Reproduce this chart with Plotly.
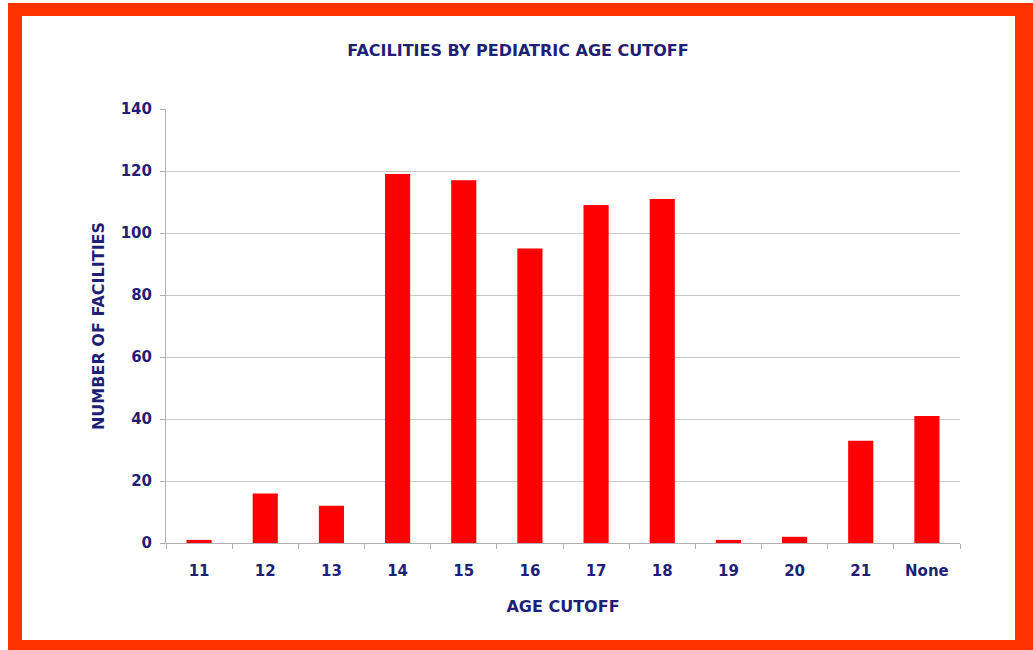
import plotly.graph_objects as go

categories = ["11", "12", "13", "14", "15", "16", "17", "18", "19", "20", "21", "None"]
facilities = [1, 16, 12, 119, 117, 95, 109, 111, 1, 2, 33, 41]
y_ticks = [0, 20, 40, 60, 80, 100, 120, 140]

W, H = 1033, 650
ML, MR, MT, MB = 166, 73, 109, 107
PW, PH = W - ML - MR, H - MT - MB

def px(x):
    return (x - ML) / PW

def py(y):
    return (H - MB - y) / PH

NAVY = "#1f1f78"
FONT = "DejaVu Sans"

fig = go.Figure(go.Bar(
    x=categories, y=facilities,
    marker=dict(color="#ff0000", line=dict(width=0)),
))

fig.update_layout(
    width=W, height=H,
    margin=dict(l=ML, r=MR, t=MT, b=MB),
    paper_bgcolor="white", plot_bgcolor="white",
    bargap=0.62,
    showlegend=False,
    title=dict(text="<b>FACILITIES BY PEDIATRIC AGE CUTOFF</b>", x=518 / W, xanchor="center",
               y=1 - 50 / H, yanchor="middle",
               font=dict(family=FONT, size=16, color=NAVY)),
    xaxis=dict(
        type="category",
        tickfont=dict(family=FONT, size=15, color=NAVY, weight="bold"),
        showline=True, linecolor="#b0b0b0", linewidth=1,
        ticks="outside", ticklen=5, tickcolor="#b0b0b0", tickson="boundaries",
        ticklabelstandoff=14,
        showgrid=False,
        title=dict(text="<b>AGE CUTOFF</b>", font=dict(family=FONT, size=16, color=NAVY), standoff=21),
    ),
    yaxis=dict(
        range=[0, 140], tickvals=y_ticks,
        tickfont=dict(family=FONT, size=15, color=NAVY, weight="bold"),
        showline=True, linecolor="#b0b0b0", linewidth=1,
        ticks="outside", ticklen=5, tickcolor="#b0b0b0",
        ticklabelstandoff=5,
        showgrid=True, gridcolor="#c8c8c8", gridwidth=1,
        zeroline=False,
        title=dict(text="<b>NUMBER OF FACILITIES</b>", font=dict(family=FONT, size=16, color=NAVY), standoff=12),
    ),
    shapes=[
        dict(type="rect", xref="paper", yref="paper", layer="below",
             x0=px(8), x1=px(1045), y0=py(3), y1=py(660),
             fillcolor="#ff3300", line=dict(width=0)),
        dict(type="rect", xref="paper", yref="paper", layer="below",
             x0=px(22), x1=px(1015), y0=py(16), y1=py(640),
             fillcolor="white", line=dict(width=0)),
    ],
)

fig.write_html("out.html", config={"displayModeBar": False},
               post_script="document.body.style.margin='0';document.body.style.overflow='hidden';")
